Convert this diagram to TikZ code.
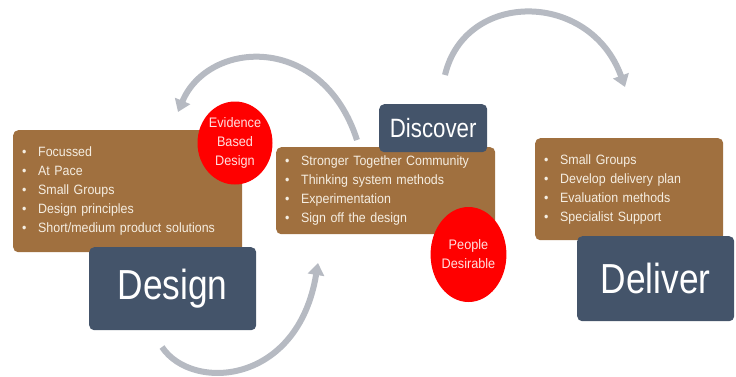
\documentclass[tikz,border=0pt]{standalone}
\usepackage{fontspec}
\setmainfont{Liberation Sans}
\newfontfamily\listfont[FakeStretch=0.92]{Liberation Sans}
\newfontfamily\titlefont[FakeStretch=0.84]{Liberation Sans}
\usetikzlibrary{arrows.meta,shapes.geometric}

\definecolor{boxbrown}{HTML}{A0703F}
\definecolor{slate}{HTML}{44546A}
\definecolor{cyclegray}{HTML}{B6BAC2}
\definecolor{listtext}{HTML}{F5EEE2}
\definecolor{badgetext}{HTML}{FFE0E0}

% one bulleted line of a list box
\newcommand\itm[1]{\makebox[16pt][l]{\textbullet}#1}

\begin{document}
\begin{tikzpicture}[x=1pt,y=-1pt,
  listbox/.style={fill=boxbrown, rounded corners=5pt, anchor=north west,
    inner xsep=9pt, inner ysep=0pt, align=left, text=listtext,
    font=\listfont\fontsize{13.5}{19}\selectfont},
  titlebox/.style={fill=slate, rounded corners=5pt, anchor=north west,
    inner sep=0pt, text=white},
  badge/.style={ellipse, fill=red, inner sep=0pt, text=badgetext,
    align=center, font=\listfont\fontsize{13.8}{19}\selectfont},
  cyclearrow/.style={draw=cyclegray, line width=6pt,
    -{Triangle[width=16pt,length=12pt]}},
]
\useasboundingbox (0,0) rectangle (736,376);

% cycle arrows
\coordinate (a1s) at (357,140);
\coordinate (a1e) at (178,112);
\coordinate (a2s) at (445,75);
\coordinate (a2e) at (625,87);
\coordinate (a3s) at (162,347);
\coordinate (a3e) at (318,263);
\draw[cyclearrow] (a1s) .. controls (322,32) and (208,40) .. (a1e);
\draw[cyclearrow] (a2s) .. controls (465,-10) and (590,-10) .. (a2e);
\draw[cyclearrow] (a3s) .. controls (192,392) and (298,385) .. (a3e);

% Design stage
\node[listbox, text width=211pt, minimum height=122pt] (designlist) at (13,130)
  {\itm{Focussed}\\ \itm{At Pace}\\ \itm{Small Groups}\\
   \itm{Design principles}\\ \itm{Short/medium product solutions}};
\node[badge, minimum width=75pt, minimum height=83pt] (evidence) at (235,143)
  {Evidence\\Based\\Design};
\node[titlebox, minimum width=167pt, minimum height=83pt,
  font=\titlefont\fontsize{42}{42}\selectfont] (design) at (89,247) {Design};

% Discover stage
\node[listbox, text width=201pt, minimum height=87pt] (discoverlist) at (276,147)
  {\itm{Stronger Together Community}\\ \itm{Thinking system methods}\\
   \itm{Experimentation}\\ \itm{Sign off the design}};
\node[titlebox, minimum width=108pt, minimum height=48pt,
  font=\titlefont\fontsize{26.5}{26.5}\selectfont] (discover) at (379,104) {Discover};
\node[badge, minimum width=75pt, minimum height=95pt] (people) at (468.5,254.5)
  {People\\Desirable};

% Deliver stage
\node[listbox, text width=170pt, minimum height=102pt] (deliverlist) at (535,138)
  {\itm{Small Groups}\\ \itm{Develop delivery plan}\\
   \itm{Evaluation methods}\\ \itm{Specialist Support}};
\node[titlebox, minimum width=157pt, minimum height=85pt,
  font=\titlefont\fontsize{42}{42}\selectfont] (deliver) at (577,236) {Deliver};
\end{tikzpicture}
\end{document}
